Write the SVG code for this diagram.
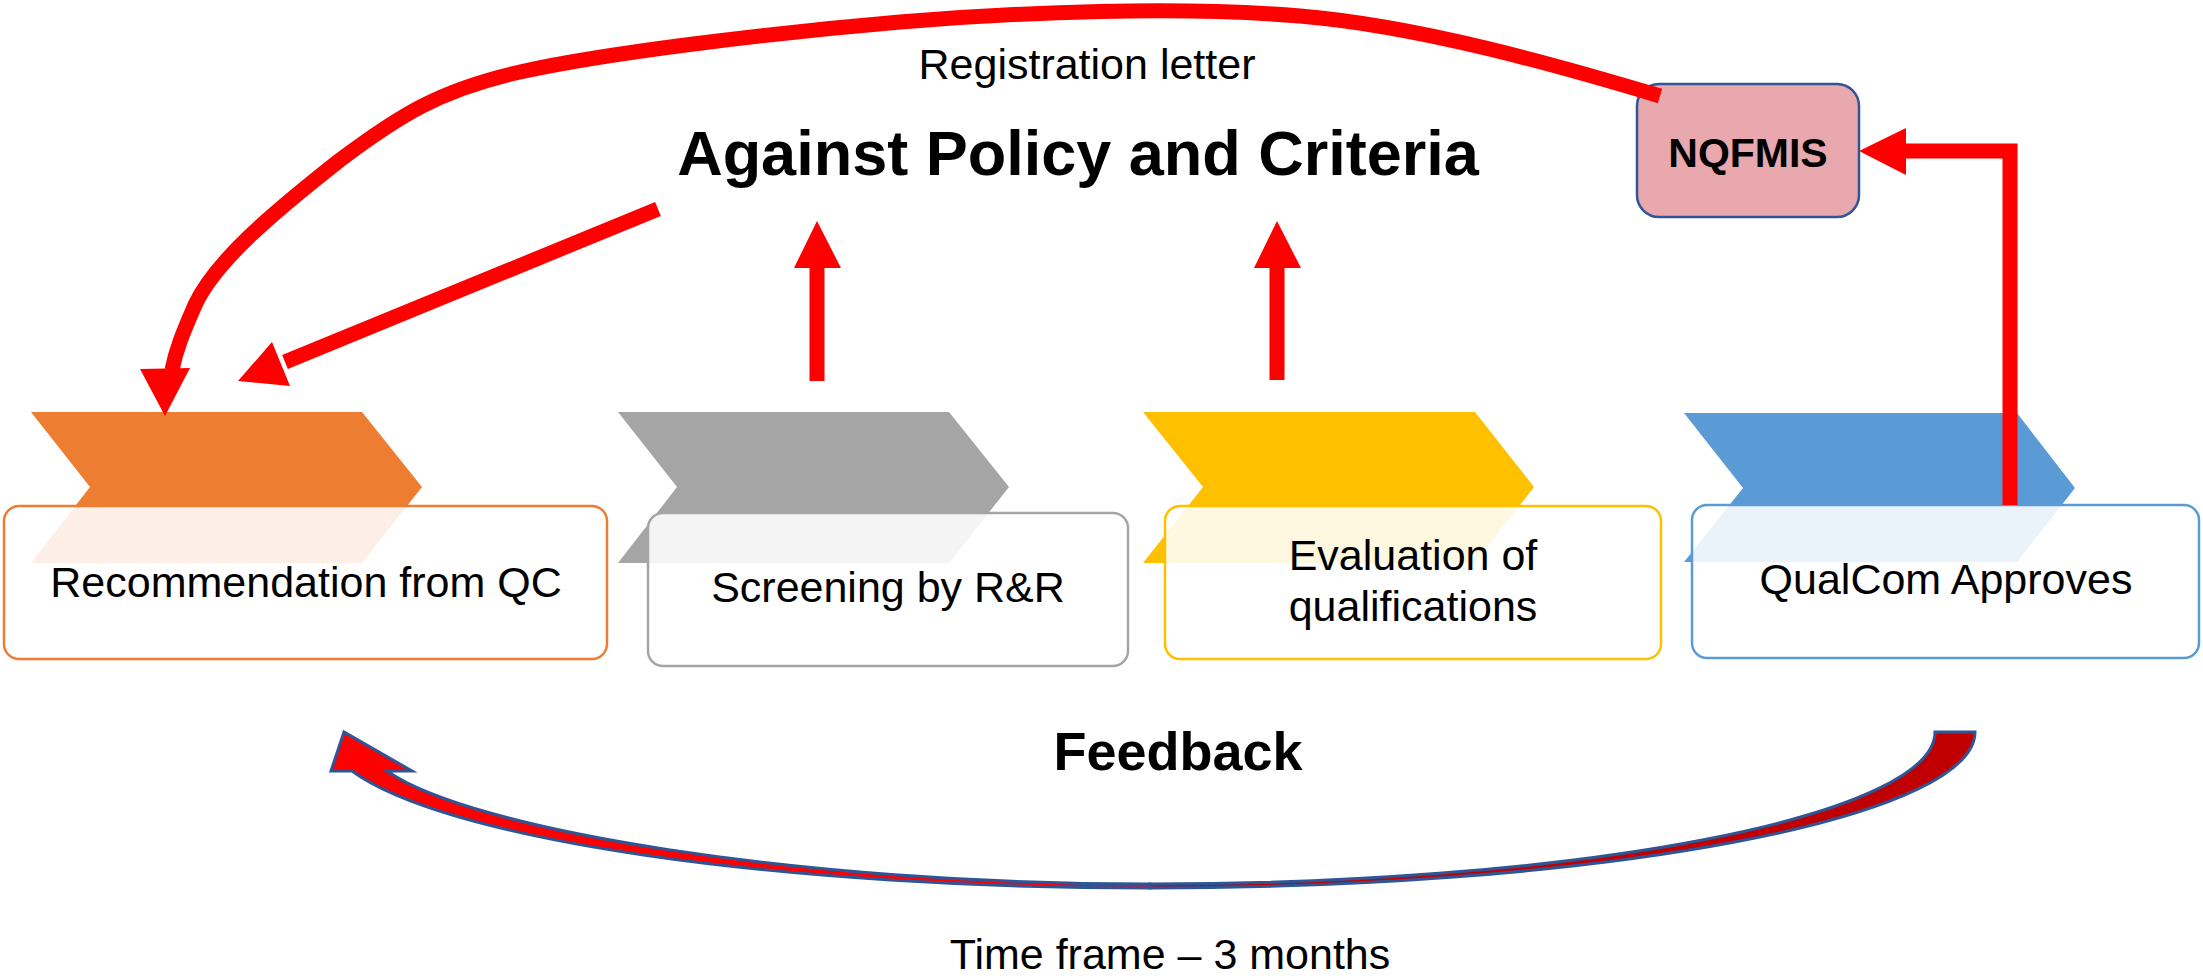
<svg xmlns="http://www.w3.org/2000/svg" width="2203" height="980" viewBox="0 0 2203 980">
<style>
.txt{font-family:"Liberation Sans",Arial,sans-serif;fill:#000;text-anchor:middle}
.reg{font-size:43px}
.box{fill:#fff;fill-opacity:0.88;stroke-width:2.5}
.red{fill:none;stroke:#FF0000;stroke-width:15;stroke-linecap:butt;stroke-linejoin:miter}
.head{fill:#FF0000}
.fb{stroke:#2F5597;stroke-width:3;stroke-linejoin:miter}
</style>
<rect width="2203" height="980" fill="#fff"/>

<g id="step-recommendation">
  <polygon points="31,412 362,412 422,487 362,563 31,563 90,487" fill="#ED7D31"/>
  <rect class="box" x="4" y="506" width="603" height="153" rx="15" stroke="#ED7D31"/>
  <text class="txt reg" x="306" y="597">Recommendation from QC</text>
</g>

<g id="step-screening">
  <polygon points="618,412 949,412 1009,487 949,563 618,563 677,487" fill="#A5A5A5"/>
  <rect class="box" x="648" y="513" width="480" height="153" rx="15" stroke="#A5A5A5"/>
  <text class="txt reg" x="888" y="602">Screening by R&amp;R</text>
</g>

<g id="step-evaluation">
  <polygon points="1143,412 1475,412 1534,487 1475,563 1143,563 1203,487" fill="#FFC000"/>
  <rect class="box" x="1165" y="506" width="496" height="153" rx="15" stroke="#FFC000"/>
  <text class="txt reg" x="1413" y="570">Evaluation of</text>
  <text class="txt reg" x="1413" y="621">qualifications</text>
</g>

<g id="step-qualcom">
  <polygon points="1684,413 2017,413 2075,488 2017,562 1684,562 1743,488" fill="#5B9BD5"/>
  <rect class="box" x="1692" y="505" width="507" height="153" rx="15" stroke="#5B9BD5"/>
  <text class="txt reg" x="1946" y="594">QualCom Approves</text>
</g>

<g id="nqfmis">
  <rect x="1637" y="84" width="222" height="133" rx="22" fill="#E8A8AE" stroke="#2F5597" stroke-width="2.5"/>
  <text class="txt" x="1748" y="167" font-size="41" font-weight="bold">NQFMIS</text>
</g>

<g id="labels">
  <text class="txt reg" x="1087" y="79">Registration letter</text>
  <text class="txt" x="1078" y="175" font-size="63" font-weight="bold">Against Policy and Criteria</text>
  <text class="txt" x="1178" y="770" font-size="54" font-weight="bold">Feedback</text>
  <text class="txt reg" x="1170" y="969">Time frame – 3 months</text>
</g>

<g id="connectors">
  <!-- registration letter: NQFMIS back to Recommendation -->
  <path class="red" d="M1660,96 C1560,66 1420,26 1300,16 C1180,6 1020,12 900,22 C760,34 600,54 520,72 C440,90 400,115 340,160 C270,215 215,262 195,305 C182,335 176,350 172,370"/>
  <polygon class="head" points="140,369 190,368 165,416"/>

  <!-- Against policy back to Recommendation -->
  <line class="red" x1="658" y1="209" x2="285" y2="362"/>
  <polygon class="head" points="272,342 290,386 238,381"/>

  <!-- Screening up -->
  <line class="red" x1="817" y1="381" x2="817" y2="266"/>
  <polygon class="head" points="794,268 841,268 817,221"/>

  <!-- Evaluation up -->
  <line class="red" x1="1277" y1="380" x2="1277" y2="266"/>
  <polygon class="head" points="1254,268 1301,268 1277,221"/>

  <!-- QualCom to NQFMIS -->
  <path class="red" d="M2010,505 L2010,151 L1904,151" stroke-width="16"/>
  <polygon class="head" points="1906,128 1906,175 1859,151"/>

  <!-- Feedback curved arrow -->
  <path class="fb" fill="#C00000" d="M1935,732 L1975,732 A825,156 0 0 1 1150,888 L1150,884 A785,152 0 0 0 1935,732 Z"/>
  <path class="fb" fill="#FF0000" d="M1150,888 A825,156 0 0 1 352,771 L331,771 L344,732 L412,771 L387,771 C470,830 800,884 1150,884 Z"/>
</g>
</svg>
